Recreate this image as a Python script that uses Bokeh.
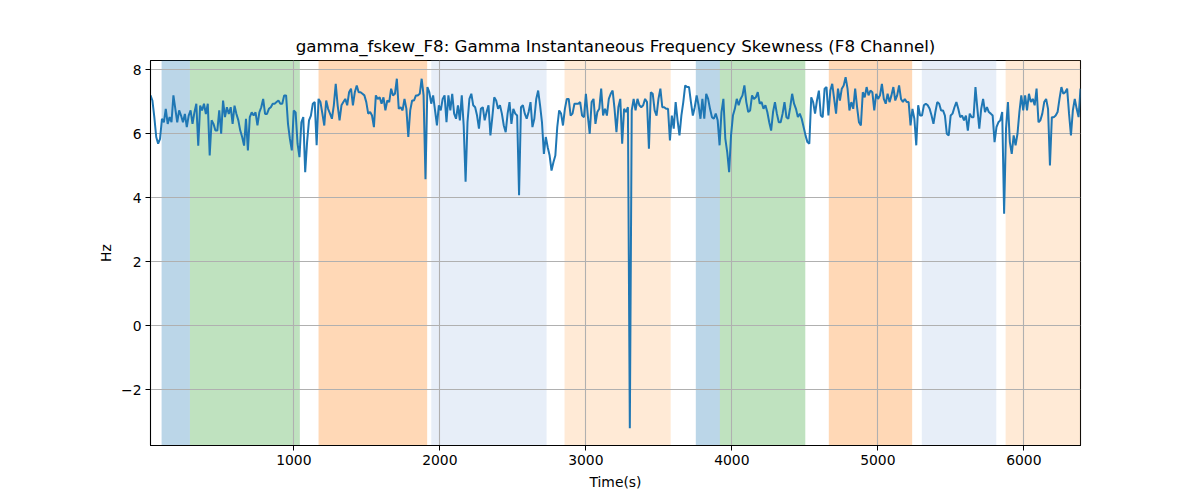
import numpy as np
from bokeh.plotting import figure
from bokeh.models import Range1d, FixedTicker, ColumnDataSource
from bokeh.embed import file_html
from bokeh.resources import INLINE

# ---- data ----
skew_values = [
    # segment 1
    7.20, 7.04, 6.52, 5.90, 5.69, 5.84, 6.47, 6.36, 6.78, 6.31, 6.52, 6.36, 7.20, 6.78, 6.36, 6.73, 6.57, 6.36, 6.62, 6.21,
    6.57, 6.73, 6.31, 6.67, 6.94, 5.63, 6.88, 6.73, 6.94, 6.62, 6.94, 5.32, 6.42, 6.31, 6.10, 6.10, 6.73, 6.00, 7.04, 6.52,
    6.83,
    6.62, 6.83, 6.31, 6.88, 6.62, 6.42, 6.10, 5.90, 5.63, 6.47, 5.48, 6.52, 6.67, 6.57, 6.67, 6.26, 6.67, 6.83, 7.09, 6.62,
    6.62, 6.78, 6.83, 6.94, 6.94, 6.99, 7.04, 6.94, 6.94, 7.20, 7.20, 6.31, 5.84, 5.48, 6.73, 6.67, 5.69, 5.27,
    # segment 2
    6.36, 6.52, 4.80, 5.74, 6.42, 6.57, 6.94, 6.99, 5.64, 7.09, 6.99, 6.63, 6.26, 7.04, 6.78, 6.63, 6.47, 6.89, 7.56, 6.89,
    6.42, 6.89, 6.99, 7.09, 6.89, 7.30, 7.41, 6.89, 7.30, 7.51, 7.30, 7.30, 7.25, 7.20, 6.99, 6.63, 6.68, 6.57, 6.21, 7.20,
    7.09, 7.14, 6.94, 7.14, 6.73, 7.04, 6.99, 7.41, 7.20, 7.25, 7.72, 6.78, 6.83, 6.73, 7.09, 6.78, 5.90, 6.73, 7.04, 7.04,
    7.20, 7.20, 7.25, 7.72, 7.20, 4.58, 7.46, 7.30, 6.94, 7.20, 6.73, 6.26, 6.89, 6.73, 7.09, 7.20, 6.36, 7.20, 6.73, 7.25,
    6.63, 6.47, 6.89, 6.42, 7.20, 6.26,
    # segment 3
    4.50, 6.36, 7.09, 7.25, 6.89, 6.83, 6.57, 6.16, 6.78, 6.83, 6.42, 6.68, 6.89, 5.95, 6.52, 7.14, 7.04, 6.78, 6.89, 6.63,
    6.26, 6.05, 6.63, 6.99, 6.31, 6.78, 6.63, 6.57, 4.08, 6.83, 6.89, 6.63, 6.47, 6.68, 6.99, 6.21, 6.47, 7.09, 7.35, 6.89,
    6.36, 5.37, 5.90, 5.58, 5.32, 4.85, 5.11, 5.32, 6.21, 6.73, 6.63, 6.26, 6.78, 7.09, 7.09, 6.57, 6.63, 6.94, 6.94, 6.94,
    6.99, 6.57, 6.52, 7.25, 6.57, 6.00, 6.99, 7.09, 6.31, 6.68, 6.78, 7.41, 6.57, 6.78, 6.57, 7.09, 7.25, 7.35, 6.78, 6.05,
    6.83, 7.09,
    # segment 4
    5.69, 6.78, 6.68, 6.83, -3.20, 6.73, 7.09, 6.73, 7.09, 6.89, 6.83, 6.89, 7.09, 6.99, 5.53, 7.30, 7.25, 6.73, 6.57, 7.09,
    7.41, 6.83, 6.83, 6.78, 6.78, 5.79, 6.57, 6.16, 6.99, 6.42, 5.95, 6.57, 6.99, 7.51, 7.46, 7.46, 6.99, 6.57, 6.83, 7.20,
    6.89, 6.47, 7.09, 6.47, 7.25, 7.09, 6.78, 6.52, 6.47, 6.63, 6.42, 5.64, 6.68, 7.09, 5.85, 5.43, 4.80, 5.95, 6.57, 6.78,
    7.09, 6.89, 7.09, 7.20, 7.51, 6.99, 6.68, 6.73, 7.20, 7.09, 7.14, 7.30, 6.94, 6.99, 6.78, 6.89, 6.68, 6.36, 6.10, 6.68,
    6.99, 6.63, 6.36, 6.36, 6.63, 6.99, 6.52,
    # segment 5
    6.47, 6.83, 7.25, 6.94, 6.78, 6.52, 6.63, 6.47, 6.21, 5.95, 5.74, 5.69, 7.14, 6.99, 6.63, 7.04, 7.35, 6.57, 6.52, 7.41,
    7.46, 6.57, 7.35, 7.56, 7.09, 6.63, 7.41, 7.04, 7.41, 7.51, 7.77, 7.41, 6.73, 6.99, 6.78, 7.41, 6.83, 6.36, 6.26, 7.30,
    7.14, 7.46, 7.20, 7.35, 7.30, 6.73, 7.25, 7.09, 7.20, 7.56, 7.09, 6.94, 7.25, 6.99, 7.20, 7.46, 7.04, 7.20, 7.51, 7.09,
    6.99, 7.09, 6.99, 6.99, 6.26, 6.78, 6.47, 5.64, 6.89, 6.57, 6.57, 6.89, 6.94, 6.89, 6.78, 6.57, 6.31, 6.68, 6.99, 6.94,
    6.73, 6.73, 6.57, 6.00,
    # segment 6
    5.95, 6.57, 6.63, 6.83, 6.99, 6.78, 6.52, 6.57, 6.42, 6.57, 6.10, 6.63, 6.52, 6.52, 7.46, 6.78, 6.16, 6.78, 7.09, 6.68,
    6.83, 6.68, 6.63, 6.57, 5.74, 6.21, 6.36, 6.42, 6.68, 3.50, 6.16, 6.99, 5.74, 5.37, 5.95, 5.64, 6.00, 6.68, 7.20, 6.73,
    7.20, 6.73, 7.25, 6.99, 7.09, 6.89, 7.41, 6.36, 6.42, 6.63, 6.99, 7.09, 6.78, 5.01, 6.52, 6.52, 6.57, 6.68, 7.09, 7.46,
    7.25, 7.30, 7.41, 6.63, 5.95, 6.73, 7.09, 6.78, 6.52, 7.41,
]
t_first = 18.0
t_last = 6388.0

band_starts = [94, 288, 1169, 1941, 2854, 3753, 3918, 4664, 5301, 5875]
band_ends = [288, 1041, 1913, 2731, 3581, 3918, 4503, 5235, 5811, 6388]
band_colors = ["#1f77b4", "#2ca02c", "#ff7f0e", "#aec7e8", "#ffbb78",
               "#1f77b4", "#2ca02c", "#ff7f0e", "#aec7e8", "#ffbb78"]

x_ticks = [1000, 2000, 3000, 4000, 5000, 6000]
y_ticks = [-2, 0, 2, 4, 6, 8]

title_text = "gamma_fskew_F8: Gamma Instantaneous Frequency Skewness (F8 Channel)"
x_label = "Time(s)"
y_label = "Hz"

# ---- build ----
n = len(skew_values)
times = np.linspace(t_first, t_last, n)

FONT = "DejaVu Sans"

p = figure(
    frame_width=930, frame_height=385,
    min_border_left=150, min_border_right=112,
    min_border_top=60, min_border_bottom=47,
    x_range=Range1d(t_first, t_last), y_range=Range1d(-3.74, 8.29),
    output_backend="svg", toolbar_location=None, title=title_text,
)

p.title.align = "center"
p.title.text_font = FONT
p.title.text_font_size = "16.7px"
p.title.text_font_style = "normal"
p.title.text_color = "black"

band_src = ColumnDataSource(dict(left=band_starts, right=band_ends, color=band_colors))
p.quad(left="left", right="right", bottom=-100, top=100, fill_color="color",
       fill_alpha=0.3, line_color=None, source=band_src, level="image")

p.line(times, skew_values, line_color="#1f77b4", line_width=2.0)

for ax in (p.xaxis[0], p.yaxis[0]):
    ax.major_label_text_font = FONT
    ax.major_label_text_font_size = "13.9px"
    ax.major_label_text_color = "black"
    ax.axis_label_text_font = FONT
    ax.axis_label_text_font_size = "13.9px"
    ax.axis_label_text_font_style = "normal"
    ax.axis_label_text_color = "black"
    ax.axis_line_color = "black"
    ax.major_tick_line_color = "black"
    ax.major_tick_out = 5
    ax.major_tick_in = 0
    ax.minor_tick_line_color = None
    ax.major_label_standoff = 4

p.xaxis.ticker = FixedTicker(ticks=x_ticks)
p.yaxis.ticker = FixedTicker(ticks=y_ticks)
p.xaxis.axis_label = x_label
p.yaxis.axis_label = y_label
p.xaxis.axis_label_standoff = 6
p.yaxis.axis_label_standoff = 4

p.xgrid.ticker = FixedTicker(ticks=x_ticks)
p.ygrid.ticker = FixedTicker(ticks=y_ticks)
for g in (p.xgrid[0], p.ygrid[0]):
    g.grid_line_color = "#b0b0b0"
    g.grid_line_width = 1.1

p.outline_line_color = "black"
p.outline_line_width = 1.1
p.background_fill_color = "white"
p.border_fill_color = "white"

open("out.html", "w").write(file_html(p, INLINE))
